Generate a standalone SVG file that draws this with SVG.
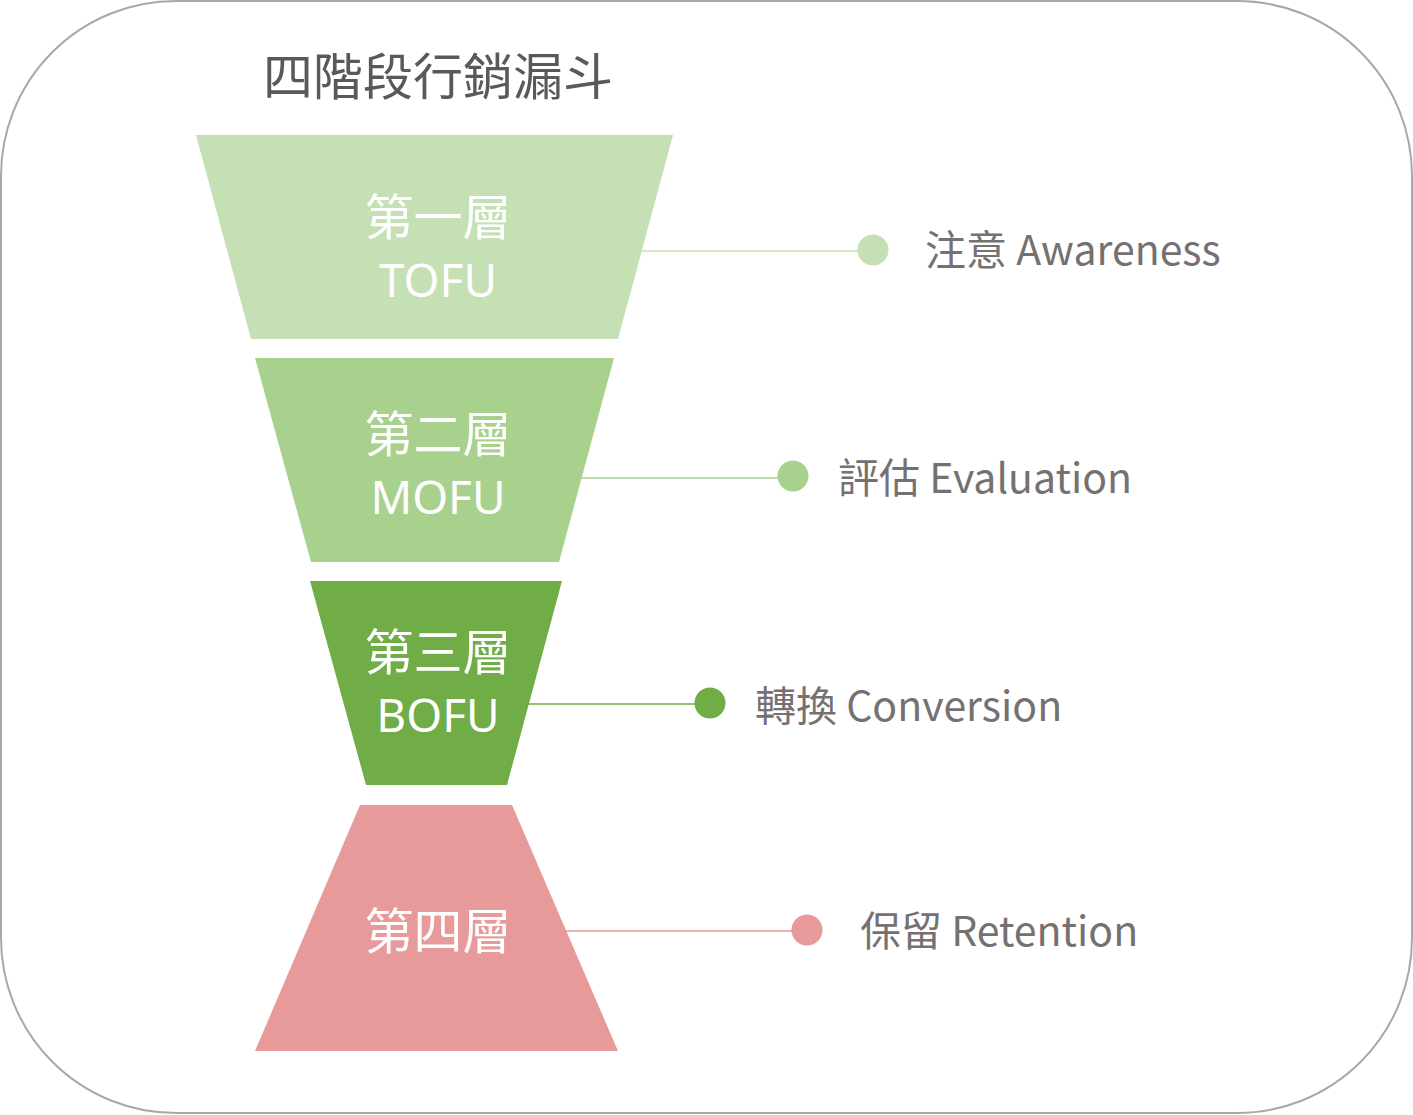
<svg xmlns="http://www.w3.org/2000/svg" width="1413" height="1115" viewBox="0 0 1413 1115">
<style>
.lbl{font-family:"Noto Sans CJK TC","Noto Sans",sans-serif;font-size:41px;fill:#767171}
.in{font-family:"Noto Sans CJK TC","Noto Sans",sans-serif;font-size:49px;fill:#ffffff;text-anchor:middle}
.en{font-family:"Noto Sans","Noto Sans CJK TC",sans-serif;font-size:46px;fill:#ffffff;text-anchor:middle}
.title{font-family:"Noto Sans CJK TC",sans-serif;font-size:50px;fill:#595959}
</style>
<rect x="1" y="1" width="1411" height="1112" rx="175" ry="175" fill="#ffffff" stroke="#aaa7a7" stroke-width="2"/>
<text class="title" x="263" y="95">四階段行銷漏斗</text>
<g id="connectors">
<line x1="640" y1="251" x2="860" y2="251" stroke="#c5e0b4" stroke-width="1.5"/>
<line x1="581" y1="478" x2="780" y2="478" stroke="#a9d18e" stroke-width="1.5"/>
<line x1="527" y1="704" x2="697" y2="704" stroke="#70ad47" stroke-width="1.5"/>
<line x1="565" y1="931" x2="794" y2="931" stroke="#e89a9a" stroke-width="1.5"/>
</g>
<g id="tofu">
<polygon points="196,135 673,135 618,339 251,339" fill="#c5e0b4"/>
<text class="in" x="438" y="235">第一層</text>
<text class="en" x="438" y="297">TOFU</text>
</g>
<g id="mofu">
<polygon points="255,358 614,358 559,562 311,562" fill="#a9d18e"/>
<text class="in" x="438" y="452">第二層</text>
<text class="en" x="438" y="514">MOFU</text>
</g>
<g id="bofu">
<polygon points="310,581 562,581 507,785 366,785" fill="#70ad47"/>
<text class="in" x="438" y="670">第三層</text>
<text class="en" x="438" y="732">BOFU</text>
</g>
<g id="retention-layer">
<polygon points="360,805 512,805 618,1051 255,1051" fill="#e89a9a"/>
<text class="in" x="438" y="949">第四層</text>
</g>
<g id="awareness">
<circle cx="873" cy="250" r="15.5" fill="#c5e0b4"/>
<text class="lbl" x="925" y="265">注意 Awareness</text>
</g>
<g id="evaluation">
<circle cx="793" cy="476" r="15.5" fill="#a9d18e"/>
<text class="lbl" x="838" y="493">評估 Evaluation</text>
</g>
<g id="conversion">
<circle cx="710" cy="703" r="15.5" fill="#70ad47"/>
<text class="lbl" x="755" y="721">轉換 Conversion</text>
</g>
<g id="retention">
<circle cx="807" cy="930" r="15.5" fill="#e89a9a"/>
<text class="lbl" x="860" y="946">保留 Retention</text>
</g>
</svg>
